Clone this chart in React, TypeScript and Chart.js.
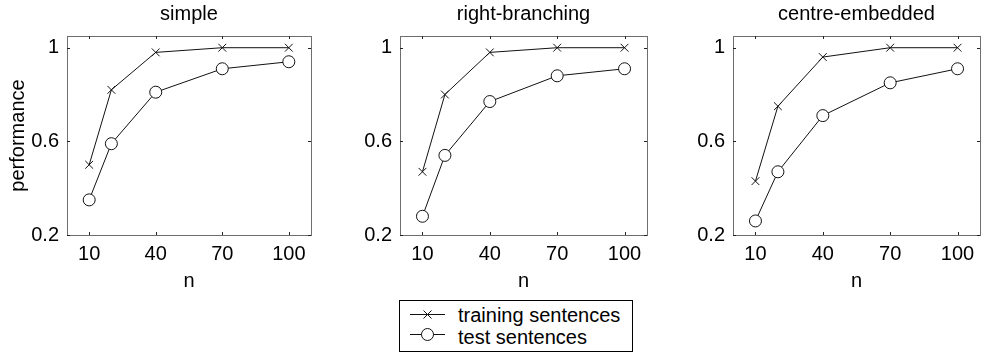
import React, { useEffect, useRef } from "react";
import { Chart, registerables } from "chart.js";

Chart.register(...registerables);

// ---- data ----
const nValues = [10, 20, 40, 70, 100];
const xTicks = [10, 40, 70, 100];
const yTicks = [0.2, 0.6, 1];
const panelTitles = ["simple", "right-branching", "centre-embedded"];
const seriesLabels = ["training sentences", "test sentences"];

const simpleTraining = [0.5, 0.82, 0.98, 1.0, 1.0];
const simpleTest = [0.35, 0.59, 0.81, 0.91, 0.94];
const rightTraining = [0.47, 0.8, 0.98, 1.0, 1.0];
const rightTest = [0.28, 0.54, 0.77, 0.88, 0.91];
const centreTraining = [0.43, 0.75, 0.96, 1.0, 1.0];
const centreTest = [0.26, 0.47, 0.71, 0.85, 0.91];

const FONT_FAMILY = "'Liberation Sans', Arial, Helvetica, sans-serif";
const FONT_SIZE = 20;

const boxPlugin = {
  id: "boxTicks",
  beforeDatasetsDraw(chart: any) {
    const { ctx, chartArea } = chart;
    const { left, right, top, bottom } = chartArea;
    ctx.save();
    ctx.strokeStyle = "#6e6e6e";
    ctx.lineWidth = 1;
    ctx.strokeRect(Math.round(left) + 0.5, Math.round(top) + 0.5, Math.round(right - left), Math.round(bottom - top));
    ctx.strokeStyle = "#222";
    const tl = 3;
    const xs = chart.scales.x;
    xs.ticks.forEach((t: any) => {
      const px = Math.round(xs.getPixelForValue(t.value)) + 0.5;
      ctx.beginPath();
      ctx.moveTo(px, bottom);
      ctx.lineTo(px, bottom - tl);
      ctx.moveTo(px, top);
      ctx.lineTo(px, top + tl);
      ctx.stroke();
    });
    const ys = chart.scales.y;
    ys.ticks.forEach((t: any) => {
      const py = Math.round(ys.getPixelForValue(t.value)) + 0.5;
      ctx.beginPath();
      ctx.moveTo(left, py);
      ctx.lineTo(left + tl, py);
      ctx.moveTo(right, py);
      ctx.lineTo(right - tl, py);
      ctx.stroke();
    });
    ctx.restore();
  },
};

type PanelProps = {
  left: number;
  width: number;
  title: string;
  training: number[];
  test: number[];
  showYTitle: boolean;
};

function Panel({ left, width, title, training, test, showYTitle }: PanelProps) {
  const ref = useRef<HTMLCanvasElement>(null);
  const height = 300;
  useEffect(() => {
    const font = { family: FONT_FAMILY, size: FONT_SIZE, weight: "normal" as const };
    const chart = new Chart(ref.current!, {
      type: "line",
      data: {
        datasets: [
          {
            label: seriesLabels[0],
            data: nValues.map((x, i) => ({ x, y: training[i] })),
            borderColor: "#111",
            borderWidth: 1,
            tension: 0,
            pointStyle: "crossRot",
            pointRadius: 5.5,
            pointBorderColor: "#111",
            pointBorderWidth: 1,
            pointBackgroundColor: "#111",
          },
          {
            label: seriesLabels[1],
            data: nValues.map((x, i) => ({ x, y: test[i] })),
            borderColor: "#111",
            borderWidth: 1,
            tension: 0,
            pointStyle: "circle",
            pointRadius: 6,
            pointBorderColor: "#111",
            pointBorderWidth: 1,
            pointBackgroundColor: "#fff",
          },
        ],
      },
      options: {
        responsive: false,
        animation: false,
        events: [],
        layout: { padding: { left: 0, right: 2, top: 0, bottom: 0 } },
        plugins: {
          legend: { display: false },
          tooltip: { enabled: false },
          title: {
            display: true,
            text: title,
            fullSize: false,
            color: "#000",
            font,
            padding: { top: 2.5, bottom: 9.5 },
          },
        },
        scales: {
          x: {
            type: "linear",
            min: 0,
            max: 110,
            afterBuildTicks: (s: any) => {
              s.ticks = xTicks.map((v) => ({ value: v }));
            },
            afterFit: (s: any) => {
              s.height = 65;
            },
            ticks: {
              color: "#000",
              font,
              padding: 7,
              maxRotation: 0,
              autoSkip: false,
              callback: (v: any) => String(v),
            },
            grid: { display: false, drawTicks: false },
            border: { display: false },
            title: {
              display: true,
              text: "n",
              color: "#000",
              font,
              padding: { top: 0, bottom: 7 },
            },
          },
          y: {
            type: "linear",
            min: 0.2,
            max: 1.05,
            afterBuildTicks: (s: any) => {
              s.ticks = yTicks.map((v) => ({ value: v }));
            },
            afterFit: (s: any) => {
              s.width = 67;
            },
            ticks: {
              color: "#000",
              font,
              padding: 8,
              autoSkip: false,
              callback: (v: any) => String(v),
            },
            grid: { display: false, drawTicks: false },
            border: { display: false },
            title: {
              display: showYTitle,
              text: "performance",
              color: "#000",
              font,
              padding: { top: 6, bottom: 0 },
            },
          },
        },
      } as any,
      plugins: [boxPlugin],
    });
    return () => chart.destroy();
  }, []);
  return (
    <canvas
      ref={ref}
      width={width}
      height={height}
      style={{ position: "absolute", left, top: 0, width, height }}
    />
  );
}

function Legend() {
  const textStyle: React.CSSProperties = {
    position: "absolute",
    left: 58,
    fontFamily: FONT_FAMILY,
    fontSize: FONT_SIZE,
    lineHeight: "22px",
    whiteSpace: "nowrap",
    color: "#000",
  };
  return (
    <div
      style={{
        position: "absolute",
        left: 399,
        top: 300,
        width: 234,
        height: 52,
        boxSizing: "border-box",
        border: "1px solid #000",
        background: "#fff",
      }}
    >
      <svg width={232} height={50} style={{ position: "absolute", left: 0, top: 0 }}>
        <line x1={10} y1={13.5} x2={45} y2={13.5} stroke="#111" strokeWidth={1} />
        <line x1={23.5} y1={9.5} x2={31.5} y2={17.5} stroke="#111" strokeWidth={1} />
        <line x1={23.5} y1={17.5} x2={31.5} y2={9.5} stroke="#111" strokeWidth={1} />
        <line x1={10} y1={33.5} x2={45} y2={33.5} stroke="#111" strokeWidth={1} />
        <circle cx={27.5} cy={33.5} r={6} fill="#fff" stroke="#111" strokeWidth={1} />
      </svg>
      <div style={{ ...textStyle, top: 3 }}>{seriesLabels[0]}</div>
      <div style={{ ...textStyle, top: 25 }}>{seriesLabels[1]}</div>
    </div>
  );
}

export default function App() {
  return (
    <div
      style={{
        position: "absolute",
        left: 0,
        top: 0,
        width: 987,
        height: 354,
        background: "#fff",
        overflow: "hidden",
      }}
    >
      <Panel left={0} width={318} title={panelTitles[0]} training={simpleTraining} test={simpleTest} showYTitle={true} />
      <Panel left={333} width={321} title={panelTitles[1]} training={rightTraining} test={rightTest} showYTitle={false} />
      <Panel left={666} width={321} title={panelTitles[2]} training={centreTraining} test={centreTest} showYTitle={false} />
      <Legend />
    </div>
  );
}
